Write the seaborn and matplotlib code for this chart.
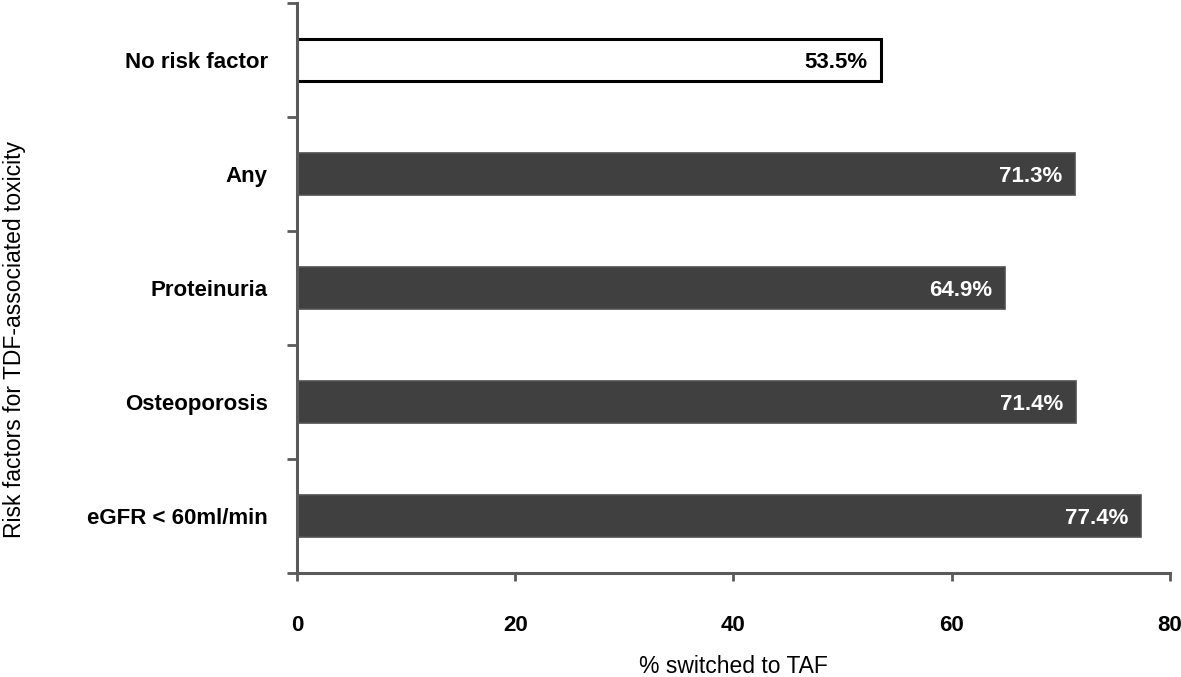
import numpy as np
import pandas as pd
import matplotlib.pyplot as plt
import seaborn as sns
from matplotlib.ticker import FixedLocator

categories = ['No risk factor', 'Any', 'Proteinuria', 'Osteoporosis', 'eGFR < 60ml/min']
pct_switched = [53.5, 71.3, 64.9, 71.4, 77.4]
x_ticks = [0, 20, 40, 60, 80]

df = pd.DataFrame({'factor': categories, 'pct': pct_switched})

sns.set_style('white')
plt.rcParams['font.family'] = ['Liberation Sans', 'DejaVu Sans']
plt.rcParams['text.color'] = 'black'
plt.rcParams['axes.labelcolor'] = 'black'
plt.rcParams['xtick.labelcolor'] = 'black'
plt.rcParams['ytick.labelcolor'] = 'black'

fig = plt.figure(figsize=(11.81, 6.77), dpi=100)
ax = fig.add_axes([0.2515, 0.1536, 0.7390, 0.842])

sns.barplot(data=df, y='factor', x='pct', orient='h', width=0.37,
            color='#404040', edgecolor='#505050', linewidth=1.2, ax=ax)

# first bar is the reference group: white with black outline
first = ax.patches[0]
first.set_facecolor('white')
first.set_edgecolor('black')
first.set_linewidth(2.2)

for i, v in enumerate(pct_switched):
    col = 'black' if i == 0 else 'white'
    ax.text(v - 1.2, i, f'{v:.1f}%', ha='right', va='center_baseline',
            color=col, fontsize=16, fontweight='bold')

ax.set_xlim(0, 80)
ax.set_ylim(4.5, -0.5)
ax.set_xticks(x_ticks)
ax.set_xticklabels([str(t) for t in x_ticks], fontsize=16, fontweight='bold')
ax.tick_params(axis='x', direction='out', length=6, width=2, color='#5a5a5a',
               pad=24, bottom=True)

ax.set_yticks(range(len(categories)))
ax.set_yticklabels(categories, fontsize=16, fontweight='bold')
ax.tick_params(axis='y', which='major', length=0, pad=21)
ax.yaxis.set_minor_locator(FixedLocator(np.arange(-0.5, len(categories), 1.0)))
ax.tick_params(axis='y', which='minor', direction='out', length=7, width=2,
               color='#5a5a5a', left=True)

ax.set_xlabel('% switched to TAF', fontsize=16.5, labelpad=14)
ax.set_ylabel('Risk factors for TDF-associated toxicity', fontsize=16.5, labelpad=44)
ax.yaxis.label.set_y(0.41)

for side in ['top', 'right']:
    ax.spines[side].set_visible(False)
for side in ['left', 'bottom']:
    ax.spines[side].set_color('#5a5a5a')
    ax.spines[side].set_linewidth(2.2)

fig.savefig('out.png', dpi=100)
